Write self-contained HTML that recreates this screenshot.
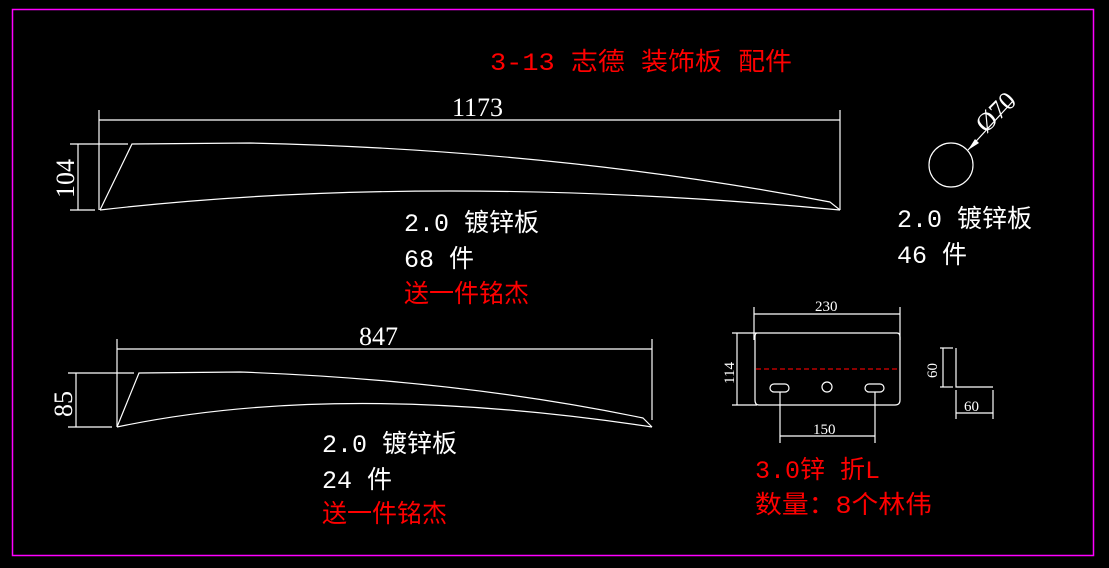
<!DOCTYPE html>
<html><head><meta charset="utf-8"><style>
html,body{margin:0;padding:0;background:#000;}
svg{display:block}
.t{font-family:"Liberation Mono","Noto Sans CJK SC",monospace;font-size:25px;}
.d{font-family:"Liberation Serif",serif;}
</style></head><body>
<svg width="1109" height="568" viewBox="0 0 1109 568" xmlns="http://www.w3.org/2000/svg">
<rect x="0" y="0" width="1109" height="568" fill="#000"/>
<rect x="12.5" y="9.5" width="1081" height="546" fill="none" stroke="#ff00ff" stroke-width="1.5"/>
<text x="490" y="70" class="t" fill="#ff0000" font-size="27" textLength="302" lengthAdjust="spacingAndGlyphs">3-13 志德 装饰板 配件</text>

<g stroke="#fff" stroke-width="1.2" fill="none">
<line x1="99" y1="110" x2="99" y2="210"/>
<line x1="840" y1="110" x2="840" y2="210"/>
<line x1="99" y1="120" x2="840" y2="120"/>
<line x1="70" y1="144" x2="128" y2="144"/>
<line x1="70" y1="210" x2="95" y2="210"/>
<line x1="78" y1="144" x2="78" y2="210"/>
<path d="M100,210 L132,144 L250,143 Q560,150 830,202 L840,210"/>
<path d="M100,210 Q430,172 840,210"/>
<circle cx="951" cy="165" r="22"/>
<line x1="968" y1="150" x2="1013" y2="101"/>
<line x1="117" y1="339" x2="117" y2="427"/>
<line x1="652" y1="339" x2="652" y2="420"/>
<line x1="117" y1="349" x2="652" y2="349"/>
<line x1="68" y1="373" x2="134" y2="373"/>
<line x1="68" y1="427" x2="112" y2="427"/>
<line x1="76" y1="373" x2="76" y2="427"/>
<path d="M117,427 L139,373 L240,372 Q460,380 643,418 L652,427"/>
<path d="M117,427 Q340,380 652,427"/>
<line x1="754" y1="307" x2="754" y2="340"/>
<line x1="900" y1="307" x2="900" y2="340"/>
<line x1="754" y1="314" x2="900" y2="314"/>
<path d="M757,333 L897,333 Q900,333 900,337 L900,400 Q900,405 895,405 L759,405 Q755,405 755,400 L755,337 Q755,333 757,333"/>
<line x1="732" y1="333" x2="757" y2="333"/>
<line x1="732" y1="405" x2="757" y2="405"/>
<line x1="737" y1="333" x2="737" y2="405"/>
<rect x="770" y="384" width="19" height="8" rx="4"/>
<rect x="865" y="384" width="19" height="8" rx="4"/>
<circle cx="827" cy="387" r="5"/>
<line x1="780" y1="392" x2="780" y2="443"/>
<line x1="875" y1="392" x2="875" y2="443"/>
<line x1="780" y1="436" x2="875" y2="436"/>
<path d="M956,348 L956,387 L993,387"/>
<line x1="940" y1="348" x2="953" y2="348"/>
<line x1="940" y1="387" x2="953" y2="387"/>
<line x1="943" y1="348" x2="943" y2="387"/>
<line x1="956" y1="390" x2="956" y2="419"/>
<line x1="993" y1="390" x2="993" y2="419"/>
<line x1="956" y1="413" x2="993" y2="413"/>
</g>
<line x1="756" y1="369" x2="899" y2="369" stroke="#e00000" stroke-width="1.2" stroke-dasharray="5,3"/>
<polygon points="968,150 975,139 979,143" fill="#fff"/>

<g fill="#fff" class="d">
<text x="452" y="116" font-size="26">1173</text>
<text transform="translate(74,198) rotate(-90)" font-size="26">104</text>
<text transform="translate(986,134) rotate(-45)" font-size="26">Ø70</text>
<text x="359" y="345" font-size="26">847</text>
<text transform="translate(72,417) rotate(-90)" font-size="26">85</text>
<text x="815" y="311" font-size="15">230</text>
<text transform="translate(734,384) rotate(-90)" font-size="15">114</text>
<text x="813" y="434" font-size="15">150</text>
<text transform="translate(937,378) rotate(-90)" font-size="15">60</text>
<text x="964" y="411" font-size="15">60</text>
</g>

<g class="t" fill="#fff">
<text x="404" y="231">2.0 镀锌板</text>
<text x="404" y="267">68 件</text>
<text x="404" y="302" fill="#ff0000">送一件铭杰</text>
<text x="897" y="227">2.0 镀锌板</text>
<text x="897" y="263">46 件</text>
<text x="322" y="452">2.0 镀锌板</text>
<text x="322" y="488">24 件</text>
<text x="322" y="522" fill="#ff0000">送一件铭杰</text>
<text x="755" y="478" fill="#ff0000">3.0锌 折L</text>
<text x="755" y="513" fill="#ff0000" textLength="177" lengthAdjust="spacingAndGlyphs">数量：8个林伟</text>
</g>
</svg>
</body></html>
